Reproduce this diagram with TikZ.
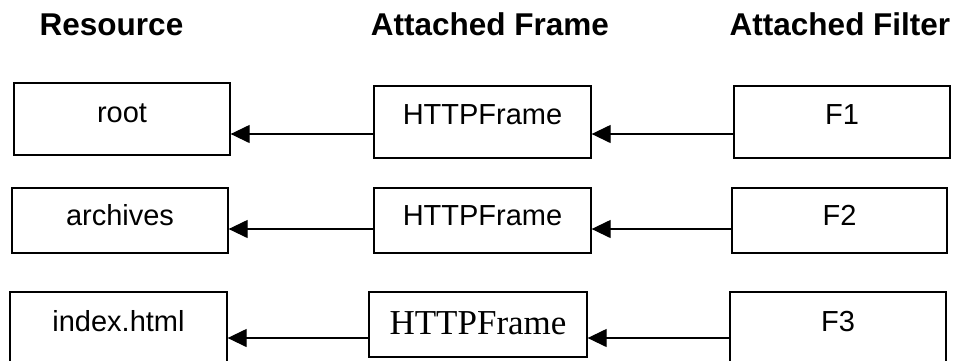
\documentclass[tikz,border=0pt]{standalone}
\usepackage{fontspec}
\setmainfont{Liberation Sans}
\newfontfamily\serifface{Liberation Serif}
\usetikzlibrary{arrows.meta}

\begin{document}
\begin{tikzpicture}[x=1pt,y=-1pt,
  box/.style={draw=black, line width=1.3pt, inner sep=0pt,
    font=\fontsize{29}{31}\selectfont},
  head/.style={font=\bfseries\fontsize{31.5}{33}\selectfont, anchor=base, inner sep=0pt},
  link/.style={line width=1.3pt, -{Triangle[length=19pt,width=18pt]}}]
\useasboundingbox (0,0) rectangle (955,360);
\clip (0,0) rectangle (955,360);

% column headings
\node[head] (hres) at (111.5,35) {Resource};
\node[head] (hfrm) at (490,35) {Attached Frame};
\node[head] (hflt) at (840,35) {Attached Filter};

% row 1
\node[box, minimum width=216pt, minimum height=72pt, text height=39pt, text depth=33pt]
  (root) at (122,119) {root};
\node[box, minimum width=217pt, minimum height=72pt, text height=38pt, text depth=34pt]
  (frm1) at (482.5,122) {HTTPFrame};
\node[box, minimum width=216pt, minimum height=72pt, text height=38pt, text depth=34pt]
  (flt1) at (842,122) {F1};

% row 2
\node[box, minimum width=216pt, minimum height=65pt, text height=37pt, text depth=28pt]
  (arch) at (120,220.5) {archives};
\node[box, minimum width=217pt, minimum height=65pt, text height=37pt, text depth=28pt]
  (frm2) at (482.5,220.5) {HTTPFrame};
\node[box, minimum width=215pt, minimum height=65pt, text height=37pt, text depth=28pt]
  (flt2) at (839.5,220.5) {F2};

% row 3
\node[box, minimum width=217pt, minimum height=76pt, text height=39pt, text depth=37pt]
  (indx) at (118.5,330) {index.html};
\node[box, minimum width=218pt, minimum height=65pt, text height=42pt, text depth=23pt,
  font=\serifface\fontsize{35}{37}\selectfont]
  (frm3) at (478,324.5) {HTTPFrame};
\node[box, minimum width=216pt, minimum height=76pt, text height=39pt, text depth=37pt]
  (flt3) at (838,330) {F3};

% connectors
\draw[link] ([yshift=-12pt]flt1.west) -- ([yshift=-12pt]frm1.east);
\draw[link] ([yshift=-12pt]frm1.west) -- ([yshift=-15pt]root.east);
\draw[link] ([yshift=-8.5pt]flt2.west) -- ([yshift=-8.5pt]frm2.east);
\draw[link] ([yshift=-8.5pt]frm2.west) -- ([yshift=-8.5pt]arch.east);
\draw[link] ([yshift=-8pt]flt3.west) -- ([yshift=-13.5pt]frm3.east);
\draw[link] ([yshift=-13.5pt]frm3.west) -- ([yshift=-8pt]indx.east);
\end{tikzpicture}
\end{document}
